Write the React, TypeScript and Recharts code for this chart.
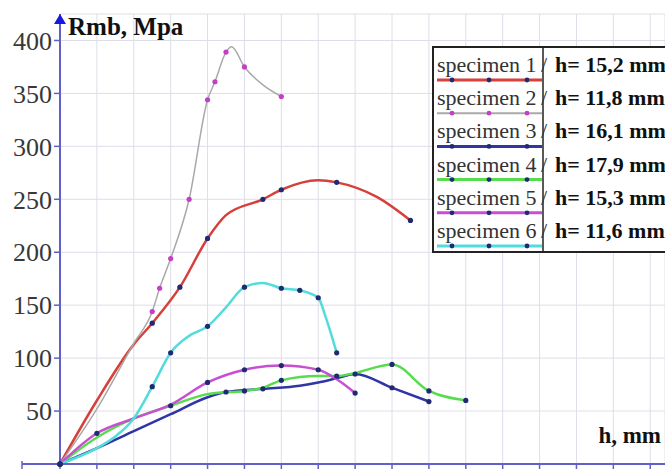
import { LineChart, Line, XAxis, YAxis, CartesianGrid } from 'recharts'

// h (mm) vs Rmb (MPa); m marks the points drawn with a marker
const specimen1 = [
  { h: 0, r: 0, m: true },
  { h: 1, r: 60 },
  { h: 2, r: 113 },
  { h: 2.5, r: 133, m: true },
  { h: 3.25, r: 167, m: true },
  { h: 4, r: 213, m: true },
  { h: 4.5, r: 235 },
  { h: 5.5, r: 250, m: true },
  { h: 6, r: 259, m: true },
  { h: 7, r: 268 },
  { h: 7.5, r: 266, m: true },
  { h: 8.6, r: 252 },
  { h: 9.5, r: 230, m: true },
]

const specimen2 = [
  { h: 0, r: 0, m: true },
  { h: 1, r: 52 },
  { h: 2, r: 114 },
  { h: 2.5, r: 144, m: true },
  { h: 2.7, r: 166, m: true },
  { h: 3, r: 194, m: true },
  { h: 3.5, r: 250, m: true },
  { h: 4, r: 344, m: true },
  { h: 4.2, r: 361, m: true },
  { h: 4.5, r: 389, m: true },
  { h: 4.65, r: 394 },
  { h: 5, r: 375, m: true },
  { h: 5.5, r: 358 },
  { h: 6, r: 347, m: true },
]

const specimen3 = [
  { h: 0, r: 0, m: true },
  { h: 1, r: 15 },
  { h: 2, r: 31 },
  { h: 3, r: 47 },
  { h: 4, r: 63 },
  { h: 4.5, r: 68, m: true },
  { h: 5.5, r: 71, m: true },
  { h: 6.5, r: 74 },
  { h: 7, r: 77 },
  { h: 7.5, r: 81 },
  { h: 8, r: 85, m: true },
  { h: 9, r: 72, m: true },
  { h: 10, r: 59, m: true },
]

const specimen4 = [
  { h: 0, r: 0, m: true },
  { h: 1, r: 25 },
  { h: 2, r: 43 },
  { h: 3, r: 55, m: true },
  { h: 4, r: 66 },
  { h: 5, r: 69, m: true },
  { h: 5.5, r: 72 },
  { h: 6, r: 79, m: true },
  { h: 7, r: 83 },
  { h: 7.5, r: 83, m: true },
  { h: 8, r: 86 },
  { h: 9, r: 94, m: true },
  { h: 10, r: 69, m: true },
  { h: 11, r: 60, m: true },
]

const specimen5 = [
  { h: 0, r: 0, m: true },
  { h: 1, r: 29, m: true },
  { h: 2, r: 43 },
  { h: 3, r: 56 },
  { h: 4, r: 77, m: true },
  { h: 5, r: 89, m: true },
  { h: 6, r: 93, m: true },
  { h: 7, r: 89, m: true },
  { h: 7.5, r: 80 },
  { h: 8, r: 67, m: true },
]

const specimen6 = [
  { h: 0, r: 0, m: true },
  { h: 1, r: 15 },
  { h: 1.5, r: 26 },
  { h: 2, r: 43 },
  { h: 2.5, r: 73, m: true },
  { h: 3, r: 105, m: true },
  { h: 3.5, r: 121 },
  { h: 4, r: 130, m: true },
  { h: 4.5, r: 148 },
  { h: 5, r: 167, m: true },
  { h: 5.5, r: 171 },
  { h: 6, r: 166, m: true },
  { h: 6.5, r: 164, m: true },
  { h: 7, r: 157, m: true },
  { h: 7.2, r: 139 },
  { h: 7.5, r: 105, m: true },
]

const names = ['specimen 1', 'specimen 2', 'specimen 3', 'specimen 4', 'specimen 5', 'specimen 6']
const heights = ['h= 15,2 mm', 'h= 11,8 mm', 'h= 16,1 mm', 'h= 17,9 mm', 'h= 15,3 mm', 'h= 11,6 mm']
const hTicks = [0, 1, 2, 3, 4, 5, 6, 7, 8, 9, 10, 11, 12, 13, 14, 15, 16]
const rTicks = [50, 100, 150, 200, 250, 300, 350, 400]

const series = [
  { data: specimen1, color: '#d6403b', dotColor: '#1f2a70', width: 2.5 },
  { data: specimen2, color: '#a9a9a9', dotColor: '#c23fc8', width: 1.5 },
  { data: specimen3, color: '#3035a6', dotColor: '#1f2a70', width: 2.5 },
  { data: specimen4, color: '#56dc4c', dotColor: '#1f2a70', width: 2.5 },
  { data: specimen5, color: '#c94fd2', dotColor: '#1f2a70', width: 2.5 },
  { data: specimen6, color: '#52dcdc', dotColor: '#1f2a70', width: 2.5 },
]

const axisColor = '#6060c8'
const serif = "'Liberation Serif', 'Times New Roman', Tinos, 'DejaVu Serif', serif"

function markerDot(color: string) {
  return (props: any) => {
    const { cx, cy, payload, key } = props
    if (!payload || !payload.m) return <g key={key} />
    return <circle key={key} cx={cx} cy={cy} r={2.6} fill={color} stroke="none" />
  }
}

function YDecor(props: any) {
  const { x, y, width, height } = props.viewBox
  const ax = x + width
  const bottom = y + height
  return (
    <g>
      <line x1={ax - 38} y1={bottom} x2={ax} y2={bottom} stroke={axisColor} strokeWidth={2} />
      <line x1={ax - 38} y1={bottom - 3} x2={ax - 38} y2={bottom + 5} stroke={axisColor} strokeWidth={1.5} />
      <polygon points={`${ax},${y} ${ax - 6},${y + 10} ${ax + 6},${y + 10}`} fill="#1818e0" />
      <text x={ax + 8} y={y + 21} style={{ fontFamily: serif }} fontWeight="bold" fontSize={25} fill="#111">
        Rmb, Mpa
      </text>
    </g>
  )
}

function XDecor(props: any) {
  const { x, y, width } = props.viewBox
  return (
    <text
      x={x + width - 4}
      y={y - 21}
      textAnchor="end"
      style={{ fontFamily: serif }}
      fontWeight="bold"
      fontSize={23}
      fill="#111"
    >
      h, mm
    </text>
  )
}

function LegendBox() {
  const rowH = 33.2
  return (
    <svg width={240} height={207} style={{ position: 'absolute', left: 432, top: 46, fontFamily: serif }}>
      <rect x={1} y={1} width={250} height={205} fill="#fff" stroke="#222" strokeWidth={2} />
      <line x1={111} y1={1} x2={111} y2={206} stroke="#222" strokeWidth={1.5} />
      {series.map((s, i) => {
        const base = 26 + rowH * i
        return (
          <g key={i}>
            <text x={5} y={base} fontSize={22} fill="#333">
              {names[i]}
            </text>
            <text x={109} y={base} fontSize={22} fill="#333">
              /
            </text>
            <text x={123} y={base} fontWeight="bold" fontSize={22} fill="#111">
              {heights[i]}
            </text>
            <line x1={5} y1={base + 8} x2={110} y2={base + 8} stroke={s.color} strokeWidth={s.width + 0.5} />
            {[20, 57, 95].map((dx) => (
              <circle key={dx} cx={dx} cy={base + 8} r={2.4} fill={s.dotColor} />
            ))}
          </g>
        )
      })}
    </svg>
  )
}

export default function App() {
  return (
    <div
      style={{
        position: 'absolute',
        left: 0,
        top: 0,
        width: 665,
        height: 471,
        overflow: 'hidden',
        background: '#fff',
        fontFamily: serif,
      }}
    >
      <LineChart width={665} height={471} margin={{ top: 14, right: 0, bottom: 0, left: 0 }}>
        <CartesianGrid stroke="#dedee8" strokeWidth={1} />
        <XAxis
          type="number"
          dataKey="h"
          domain={[0, 16.4]}
          ticks={hTicks}
          height={7}
          tickSize={5}
          tickFormatter={() => ''}
          axisLine={{ stroke: axisColor, strokeWidth: 2 }}
          tickLine={{ stroke: axisColor, strokeWidth: 1.5 }}
          label={(p: any) => <XDecor {...p} />}
        />
        <YAxis
          type="number"
          domain={[0, 425]}
          ticks={rTicks}
          width={60}
          tickSize={6}
          tickMargin={2}
          axisLine={{ stroke: axisColor, strokeWidth: 2 }}
          tickLine={{ stroke: axisColor, strokeWidth: 1.5 }}
          tick={{ style: { fontFamily: serif }, fontSize: 26, fill: '#383838' }}
          label={(p: any) => <YDecor {...p} />}
        />
        {series.map((s, i) => (
          <Line
            key={i}
            data={s.data}
            dataKey="r"
            type="monotone"
            stroke={s.color}
            strokeWidth={s.width}
            dot={markerDot(s.dotColor)}
            activeDot={false}
            isAnimationActive={false}
          />
        ))}
      </LineChart>
      <LegendBox />
    </div>
  )
}
